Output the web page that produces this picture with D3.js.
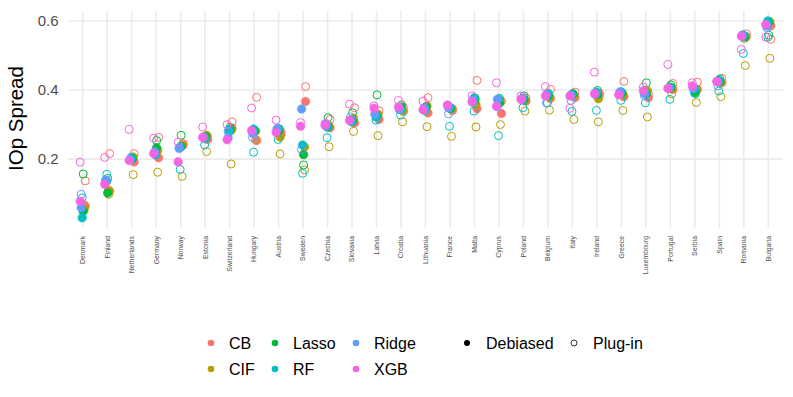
<!DOCTYPE html>
<html>
<head>
<meta charset="utf-8">
<script src="https://cdn.jsdelivr.net/npm/d3@7"></script>
<style>
  body { margin: 0; background: #fff; overflow: hidden; }
  svg { display: block; }
</style>
</head>
<body>
<svg id="chart" width="793" height="397"></svg>
<script>
// Countries in plotted order
const countries = ["Denmark", "Finland", "Netherlands", "Germany", "Norway", "Estonia",
  "Switzerland", "Hungary", "Austria", "Sweden", "Czechia", "Slovakia", "Latvia",
  "Croatia", "Lithuania", "France", "Malta", "Cyprus", "Poland", "Belgium", "Italy",
  "Ireland", "Greece", "Luxembourg", "Portugal", "Serbia", "Spain", "Romania", "Bulgaria"];

const methods = ["CB", "CIF", "Lasso", "RF", "Ridge", "XGB"];
const methodColors = ["#F8766D", "#B79F00", "#00BA38", "#00BFC4", "#619CFF", "#F564E3"];
const estimators = ["Debiased", "Plug-in"];
const yTicks = [0.2, 0.4, 0.6];

// Debiased estimates (filled points)
const cbDebiased    = [0.064, 0.107, 0.192, 0.204, 0.241, 0.257, 0.289, 0.254, 0.273, 0.367, 0.291, 0.305, 0.315, 0.339, 0.334, 0.341, 0.346, 0.332, 0.368, 0.376, 0.378, 0.386, 0.381, 0.378, 0.402, 0.402, 0.421, 0.554, 0.586];
const cifDebiased   = [0.055, 0.110, 0.206, 0.225, 0.241, 0.269, 0.283, 0.281, 0.264, 0.235, 0.296, 0.318, 0.330, 0.340, 0.354, 0.345, 0.358, 0.366, 0.370, 0.379, 0.384, 0.375, 0.386, 0.398, 0.404, 0.402, 0.422, 0.556, 0.598];
const lassoDebiased = [0.049, 0.102, 0.202, 0.233, 0.236, 0.262, 0.285, 0.283, 0.283, 0.213, 0.293, 0.310, 0.325, 0.351, 0.351, 0.347, 0.373, 0.362, 0.373, 0.383, 0.389, 0.387, 0.392, 0.389, 0.408, 0.394, 0.425, 0.556, 0.597];
const rfDebiased    = [0.030, 0.136, 0.200, 0.215, 0.235, 0.260, 0.286, 0.287, 0.288, 0.241, 0.293, 0.308, 0.322, 0.344, 0.349, 0.351, 0.377, 0.373, 0.377, 0.390, 0.387, 0.394, 0.395, 0.392, 0.408, 0.405, 0.428, 0.559, 0.600];
const ridgeDebiased = [0.059, 0.138, 0.199, 0.221, 0.231, 0.263, 0.262, 0.275, 0.288, 0.345, 0.302, 0.313, 0.330, 0.344, 0.347, 0.349, 0.371, 0.373, 0.375, 0.386, 0.385, 0.391, 0.394, 0.390, 0.406, 0.405, 0.423, 0.557, 0.586];
const xgbDebiased   = [0.078, 0.127, 0.196, 0.216, 0.192, 0.263, 0.256, 0.283, 0.277, 0.295, 0.298, 0.312, 0.347, 0.351, 0.343, 0.356, 0.366, 0.353, 0.373, 0.383, 0.383, 0.389, 0.386, 0.398, 0.405, 0.412, 0.425, 0.556, 0.590];

// Plug-in estimates (hollow points)
const cbPlugin    = [0.137, 0.216, 0.216, 0.263, 0.245, 0.265, 0.308, 0.379, 0.280, 0.410, 0.315, 0.349, 0.340, 0.350, 0.378, 0.346, 0.428, 0.368, 0.377, 0.402, 0.394, 0.391, 0.425, 0.389, 0.419, 0.423, 0.434, 0.563, 0.547];
const cifPlugin   = [0.067, 0.098, 0.155, 0.162, 0.150, 0.222, 0.186, 0.257, 0.215, 0.169, 0.236, 0.280, 0.268, 0.308, 0.294, 0.266, 0.293, 0.300, 0.339, 0.342, 0.315, 0.308, 0.341, 0.322, 0.389, 0.364, 0.381, 0.471, 0.492];
const lassoPlugin = [0.157, 0.144, 0.200, 0.254, 0.269, 0.266, 0.292, 0.283, 0.288, 0.183, 0.320, 0.334, 0.386, 0.357, 0.351, 0.347, 0.377, 0.376, 0.383, 0.390, 0.389, 0.399, 0.392, 0.421, 0.415, 0.390, 0.432, 0.550, 0.559];
const rfPlugin    = [0.088, 0.156, 0.205, 0.212, 0.170, 0.241, 0.280, 0.220, 0.257, 0.159, 0.262, 0.310, 0.313, 0.328, 0.340, 0.295, 0.339, 0.268, 0.349, 0.363, 0.338, 0.341, 0.370, 0.363, 0.373, 0.392, 0.397, 0.506, 0.553];
const ridgePlugin = [0.098, 0.140, 0.199, 0.218, 0.233, 0.264, 0.280, 0.262, 0.285, 0.228, 0.296, 0.322, 0.330, 0.348, 0.345, 0.331, 0.364, 0.351, 0.372, 0.363, 0.370, 0.387, 0.388, 0.384, 0.405, 0.405, 0.412, 0.560, 0.581];
const xgbPlugin   = [0.191, 0.205, 0.286, 0.261, 0.249, 0.293, 0.300, 0.348, 0.313, 0.306, 0.303, 0.359, 0.354, 0.370, 0.368, 0.357, 0.383, 0.421, 0.383, 0.410, 0.347, 0.452, 0.387, 0.409, 0.474, 0.421, 0.425, 0.518, 0.553];

const debiasedByMethod = [cbDebiased, cifDebiased, lassoDebiased, rfDebiased, ridgeDebiased, xgbDebiased];
const pluginByMethod = [cbPlugin, cifPlugin, lassoPlugin, rfPlugin, ridgePlugin, xgbPlugin];

// long table built from the arrays
const rows = [];
countries.forEach((c, i) => {
  methods.forEach((m, j) => {
    rows.push({country: c, method: m, estimator: "Plug-in", value: pluginByMethod[j][i]});
    rows.push({country: c, method: m, estimator: "Debiased", value: debiasedByMethod[j][i]});
  });
});

const FONT = "Liberation Sans, Arial, sans-serif";
const svg = d3.select("#chart");
const margin = {top: 11, right: 10, bottom: 169, left: 68};
const width = 793, height = 397;
const innerWidth = width - margin.left - margin.right;
const innerHeight = height - margin.top - margin.bottom;

const g = svg.append("g").attr("transform", `translate(${margin.left},${margin.top})`);

const xScale = d3.scalePoint().domain(countries).range([0, innerWidth]).padding(0.6);
const yScale = d3.scaleLinear().domain([0.0005, 0.629]).range([innerHeight, 0]);
const color = d3.scaleOrdinal().domain(methods).range(methodColors);
const dodge = d3.scalePoint().domain(methods).range([2.5, -2.5]);

// grid lines
g.append("g").selectAll("line")
  .data(yTicks).join("line")
  .attr("x1", 0).attr("x2", innerWidth)
  .attr("y1", d => yScale(d)).attr("y2", d => yScale(d))
  .attr("stroke", "#EBEBEB").attr("stroke-width", 1.6);

g.append("g").selectAll("line")
  .data(countries).join("line")
  .attr("x1", d => xScale(d)).attr("x2", d => xScale(d))
  .attr("y1", 0).attr("y2", innerHeight)
  .attr("stroke", "#EBEBEB").attr("stroke-width", 1.6);

// y tick labels
svg.append("g").selectAll("text")
  .data(yTicks).join("text")
  .attr("x", 58.5)
  .attr("y", d => margin.top + yScale(d) + 5.3)
  .attr("text-anchor", "end")
  .attr("fill", "#4D4D4D")
  .attr("font-family", FONT)
  .attr("font-size", 15)
  .text(d3.format(".1f"));

// x tick labels, rotated
svg.append("g").selectAll("text")
  .data(countries).join("text")
  .attr("transform", d => `translate(${margin.left + xScale(d) + 2.4},${margin.top + innerHeight + 8}) rotate(-90)`)
  .attr("text-anchor", "end")
  .attr("fill", "#4D4D4D")
  .attr("font-family", FONT)
  .attr("font-size", 6.9)
  .text(d => d);

// y axis title
svg.append("text")
  .attr("transform", "translate(23,118.5) rotate(-90)")
  .attr("text-anchor", "middle")
  .attr("font-family", FONT)
  .attr("font-size", 20.5)
  .attr("fill", "#000")
  .text("IOp Spread");

// points
g.append("g").selectAll("circle")
  .data(rows).join("circle")
  .attr("cx", d => xScale(d.country) + dodge(d.method))
  .attr("cy", d => yScale(d.value))
  .attr("r", d => d.estimator === "Debiased" ? 4.3 : 4.0)
  .attr("fill", d => d.estimator === "Debiased" ? color(d.method) : "none")
  .attr("stroke", d => color(d.method))
  .attr("stroke-width", d => d.estimator === "Debiased" ? 0.5 : 1.0);

// legend: methods (3 columns x 2 rows, filled by column)
const legend = svg.append("g");
const colX = [211, 275, 356];
const rowY = [343, 369];
methods.forEach((m, i) => {
  const cx = colX[Math.floor(i / 2)];
  const cy = rowY[i % 2];
  legend.append("circle").attr("cx", cx).attr("cy", cy).attr("r", 3.3).attr("fill", color(m));
  legend.append("text").attr("x", cx + 18).attr("y", cy + 5.6)
    .attr("font-family", FONT).attr("font-size", 16).attr("fill", "#000").text(m);
});

// legend: estimator shapes
const estX = [467, 574];
estimators.forEach((e, i) => {
  legend.append("circle").attr("cx", estX[i]).attr("cy", rowY[0]).attr("r", 3)
    .attr("fill", e === "Debiased" ? "#000" : "none")
    .attr("stroke", "#000").attr("stroke-width", e === "Debiased" ? 0 : 0.8);
  legend.append("text").attr("x", estX[i] + 19).attr("y", rowY[0] + 5.6)
    .attr("font-family", FONT).attr("font-size", 16).attr("fill", "#000").text(e);
});
</script>
</body>
</html>
